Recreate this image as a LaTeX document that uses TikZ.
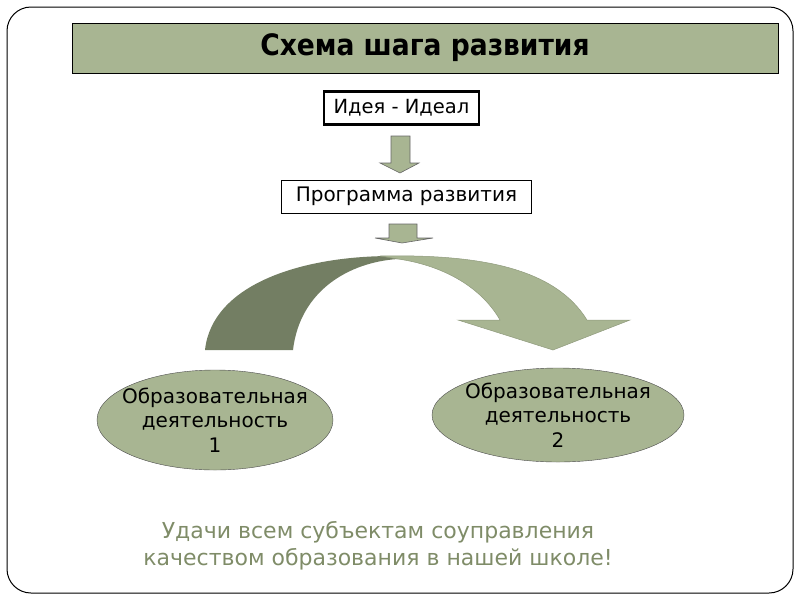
\documentclass[tikz,border=0pt]{standalone}
\usepackage{fontspec}
\setmainfont{DejaVu Sans}
\newfontfamily\condfont{DejaVu Sans Condensed}
\usetikzlibrary{shapes.geometric}
\definecolor{sage}{HTML}{A8B592}
\definecolor{darksage}{HTML}{737E63}
\definecolor{wishgreen}{HTML}{7F8C68}
\begin{document}
\begin{tikzpicture}[x=1pt,y=-1pt]
\tikzset{box/.style={draw=black, fill=white, inner sep=0pt},
  blockarrow/.style={fill=sage, draw=gray!80!black, line width=0.6pt},
  activity/.style={ellipse, draw=black!70, fill=sage, inner ysep=-4pt, align=center,
    font=\fontsize{20}{24.5}\selectfont}}
\useasboundingbox (0,0) rectangle (800,600);
\draw [line width=1pt, rounded corners=24pt] (7,7) rectangle (793,593);
\node (title) at (425,48) [box, fill=sage, minimum width=706, minimum height=50,
  font=\condfont\bfseries\fontsize{29.5}{32}\selectfont] {Схема шага развития};
\node (idea) at (401.5,108) [box, line width=2.5pt, minimum width=155, minimum height=33,
  font=\fontsize{19.5}{22}\selectfont] {Идея - Идеал};
\node (prog) at (281,196.5) [box, anchor=west, inner xsep=9pt, line width=0.8pt,
  minimum width=250, minimum height=33, font=\fontsize{20}{22}\selectfont] {Программа развития};
\draw [blockarrow] (391,136) -- (410,136) -- (410,163) -- (419,163) -- (400,173)
  -- (380,163) -- (391,163) -- cycle;
\draw [blockarrow] (389,224) -- (417,224) -- (417,238) -- (433,238) -- (402,243)
  -- (375,238) -- (389,238) -- cycle;
\fill [darksage] (205,350) .. controls (212,285) and (300,256) .. (392,256)
  -- (398,259) .. controls (350,262) and (300,290) .. (293,350) -- cycle;
\draw [fill=sage, draw=sage!85!black, line width=0.5pt] (380,256)
  .. controls (480,254) and (555,268) .. (587,320) -- (630,320) -- (553,350)
  -- (458,320) -- (500,320) .. controls (480,285) and (440,265) .. (398,259) -- cycle;
\node (act1) at (215,420) [activity, inner xsep=-12pt, minimum width=236, minimum height=100]
  {Образовательная\\деятельность\\1};
\node (act2) at (558,415) [activity, inner xsep=-6pt, minimum width=252, minimum height=94]
  {Образовательная\\деятельность\\2};
\node (wish) at (378,546) [align=center, text=wishgreen,
  font=\fontsize{22}{27}\selectfont]
  {Удачи всем субъектам соуправления\\качеством образования в нашей школе!};
\end{tikzpicture}
\end{document}
